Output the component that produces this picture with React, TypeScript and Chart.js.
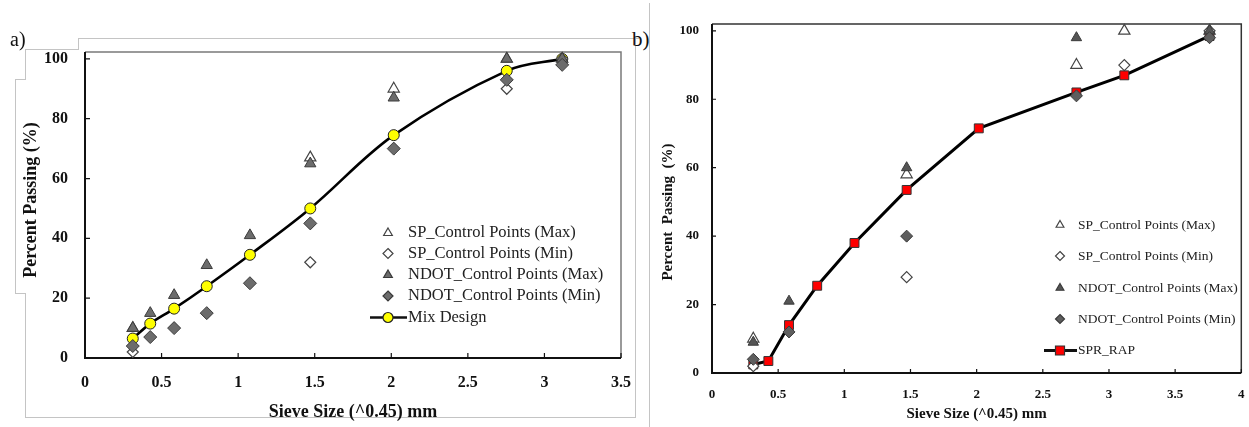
import React, { useEffect, useRef } from "react";
import { Chart, registerables } from "chart.js";

Chart.register(...registerables);

// ---------- Data: chart a) ----------
const A_X = [0.312, 0.426, 0.582, 0.795, 1.077, 1.471, 2.016, 2.754, 3.116];
const A_MIX_Y = [6.5, 11.5, 16.5, 24, 34.5, 50, 74.5, 96, 100];
const A_NDOT_MAX_Y = [10, 15, 21, 31, 41, 65, 87, 100, 100];
const A_NDOT_MIN_Y = [4, 7, 10, 15, 25, 45, 70, 93, 98];
const A_SP_MAX_X = [0.312, 1.471, 2.016, 2.754, 3.116];
const A_SP_MAX_Y = [10, 67, 90, 100, 100];
const A_SP_MIN_X = [0.312, 1.471, 2.754, 3.116];
const A_SP_MIN_Y = [2, 32, 90, 100];

// ---------- Data: chart b) ----------
const B_X = [0.312, 0.426, 0.582, 0.795, 1.077, 1.471, 2.016, 2.754, 3.116, 3.76];
const B_RAP_Y = [2.5, 3.5, 14, 25.5, 38, 53.5, 71.5, 82, 87, 98.5];
const B_SP_MAX_X = [0.312, 1.471, 2.754, 3.116, 3.76];
const B_SP_MAX_Y = [10, 58, 90, 100, 100];
const B_SP_MIN_X = [0.312, 1.471, 3.116, 3.76];
const B_SP_MIN_Y = [2, 28, 90, 100];
const B_NDOT_MAX_X = [0.312, 0.582, 1.471, 2.754, 3.76];
const B_NDOT_MAX_Y = [9, 21, 60, 98, 100];
const B_NDOT_MIN_X = [0.312, 0.582, 1.471, 2.754, 3.76];
const B_NDOT_MIN_Y = [4, 12, 40, 81, 98];

const Y_TICKS = [0, 20, 40, 60, 80, 100];
const A_X_TICKS = [0, 0.5, 1, 1.5, 2, 2.5, 3, 3.5];
const B_X_TICKS = [0, 0.5, 1, 1.5, 2, 2.5, 3, 3.5, 4];

const LEGEND_LABELS_A = [
  "SP_Control Points (Max)",
  "SP_Control Points (Min)",
  "NDOT_Control Points (Max)",
  "NDOT_Control Points (Min)",
  "Mix Design",
];
const LEGEND_LABELS_B = [
  "SP_Control Points (Max)",
  "SP_Control Points (Min)",
  "NDOT_Control Points (Max)",
  "NDOT_Control Points (Min)",
  "SPR_RAP",
];
const X_TITLE = "Sieve Size (^0.45) mm";
const Y_TITLE_A = "Percent Passing (%)";
const Y_TITLE_B = "Percent  Passing  (%)";

const SERIF = '"Liberation Serif", "Times New Roman", serif';
const GREY_FILL = "#6c6c6c";
const GREY_STROKE = "#3a3a3a";
const OPEN_STROKE = "#444";

const pts = (xs: number[], ys: number[]) => xs.map((x, i) => ({ x, y: ys[i] }));
const fmt = (v: any) => String(v);

function drawMarker(ctx: CanvasRenderingContext2D, kind: string, x: number, y: number, r: number, fill: string, stroke: string) {
  ctx.save();
  ctx.beginPath();
  if (kind === "tri") {
    ctx.moveTo(x, y - r);
    ctx.lineTo(x + r * 0.866, y + r * 0.5);
    ctx.lineTo(x - r * 0.866, y + r * 0.5);
    ctx.closePath();
  } else if (kind === "dia") {
    ctx.moveTo(x, y - r);
    ctx.lineTo(x + r, y);
    ctx.lineTo(x, y + r);
    ctx.lineTo(x - r, y);
    ctx.closePath();
  } else if (kind === "circle") {
    ctx.arc(x, y, r, 0, Math.PI * 2);
  } else if (kind === "square") {
    ctx.rect(x - r, y - r, 2 * r, 2 * r);
  }
  ctx.fillStyle = fill;
  ctx.fill();
  ctx.strokeStyle = stroke;
  ctx.lineWidth = 1.2;
  ctx.stroke();
  ctx.restore();
}

type LegendItem = { label: string; kind: string; fill: string; stroke: string; line?: boolean };

function makePlugins(opts: {
  frameColor: string;
  frameWidth: number;
  axisWidth: number;
  tickLen: number;
  legend: LegendItem[];
  legendX: number;
  legendY: number[];
  legendFont: string;
  markerR: number;
  lineFrom: number;
  lineTo: number;
  lineWidth: number;
  textGap: number;
  yTitle?: { text: string; x: number; y: number; font: string };
}) {
  return [
    {
      id: "frameTicks",
      beforeDatasetsDraw(chart: any) {
        const { ctx, chartArea } = chart;
        const { left, right, top, bottom } = chartArea;
        const xs = chart.scales.x;
        const ys = chart.scales.y;
        ctx.save();
        ctx.strokeStyle = opts.frameColor;
        ctx.lineWidth = opts.frameWidth;
        ctx.beginPath();
        ctx.moveTo(left, top);
        ctx.lineTo(right, top);
        ctx.lineTo(right, bottom);
        ctx.stroke();
        ctx.strokeStyle = "#111";
        ctx.lineWidth = opts.axisWidth;
        ctx.beginPath();
        ctx.moveTo(left, top);
        ctx.lineTo(left, bottom);
        ctx.lineTo(right, bottom);
        ctx.stroke();
        ctx.lineWidth = 1.2;
        ctx.beginPath();
        xs.ticks.forEach((t: any) => {
          const px = xs.getPixelForValue(t.value);
          ctx.moveTo(px, bottom);
          ctx.lineTo(px, bottom - opts.tickLen);
        });
        ys.ticks.forEach((t: any) => {
          const py = ys.getPixelForValue(t.value);
          ctx.moveTo(left, py);
          ctx.lineTo(left + opts.tickLen, py);
        });
        ctx.stroke();
        ctx.restore();
      },
    },
    {
      id: "customLegend",
      afterDraw(chart: any) {
        const { ctx } = chart;
        ctx.save();
        ctx.font = opts.legendFont;
        ctx.fillStyle = "#222";
        ctx.textBaseline = "middle";
        ctx.textAlign = "left";
        opts.legend.forEach((item, i) => {
          const y = opts.legendY[i];
          if (item.line) {
            ctx.strokeStyle = "#111";
            ctx.lineWidth = opts.lineWidth;
            ctx.beginPath();
            ctx.moveTo(opts.lineFrom, y);
            ctx.lineTo(opts.lineTo, y);
            ctx.stroke();
          }
          drawMarker(ctx, item.kind, opts.legendX, y, opts.markerR, item.fill, item.stroke);
          ctx.fillStyle = "#222";
          ctx.fillText(item.label, opts.legendX + opts.textGap, y);
        });
        if (opts.yTitle) {
          const t = opts.yTitle;
          ctx.translate(t.x, t.y);
          ctx.rotate(-Math.PI / 2);
          ctx.font = t.font;
          ctx.fillStyle = "#111";
          ctx.textAlign = "center";
          ctx.textBaseline = "middle";
          ctx.fillText(t.text, 0, 0);
        }
        ctx.restore();
      },
    },
  ];
}

function useChart(ref: React.RefObject<HTMLCanvasElement>, build: () => any) {
  useEffect(() => {
    if (!ref.current) return;
    const chart = new Chart(ref.current, build());
    return () => chart.destroy();
  }, []);
}

const fitX = (h: number) => (s: any) => {
  s.height = h;
  s.paddingLeft = 0;
  s.paddingRight = 0;
};
const fitY = (w: number) => (s: any) => {
  s.width = w;
  s.paddingTop = 0;
  s.paddingBottom = 0;
};

function configA() {
  const pointCommon = { clip: false as any };
  return {
    type: "scatter",
    data: {
      datasets: [
        {
          label: LEGEND_LABELS_A[3],
          data: pts(A_X, A_NDOT_MIN_Y),
          pointStyle: "rectRot",
          pointRadius: 6.5,
          pointBackgroundColor: GREY_FILL,
          pointBorderColor: GREY_STROKE,
          pointBorderWidth: 1,
          ...pointCommon,
        },
        {
          label: LEGEND_LABELS_A[2],
          data: pts(A_X, A_NDOT_MAX_Y),
          pointStyle: "triangle",
          pointRadius: 6.5,
          pointBackgroundColor: GREY_FILL,
          pointBorderColor: GREY_STROKE,
          pointBorderWidth: 1,
          ...pointCommon,
        },
        {
          label: LEGEND_LABELS_A[1],
          data: pts(A_SP_MIN_X, A_SP_MIN_Y),
          pointStyle: "rectRot",
          pointRadius: 5.5,
          pointBackgroundColor: "#fff",
          pointBorderColor: OPEN_STROKE,
          pointBorderWidth: 1.2,
          ...pointCommon,
        },
        {
          label: LEGEND_LABELS_A[0],
          data: pts(A_SP_MAX_X, A_SP_MAX_Y),
          pointStyle: "triangle",
          pointRadius: 6.5,
          pointBackgroundColor: "#fff",
          pointBorderColor: OPEN_STROKE,
          pointBorderWidth: 1.2,
          ...pointCommon,
        },
        {
          label: LEGEND_LABELS_A[4],
          data: pts(A_X, A_MIX_Y),
          showLine: true,
          borderColor: "#000",
          borderWidth: 2.6,
          tension: 0.35,
          pointStyle: "circle",
          pointRadius: 5.5,
          pointBackgroundColor: "#ffff00",
          pointBorderColor: "#222",
          pointBorderWidth: 1,
          ...pointCommon,
        },
      ],
    },
    options: {
      animation: false,
      responsive: false,
      devicePixelRatio: 1,
      layout: { padding: { top: 52, right: 11, left: 0, bottom: 0 } },
      plugins: { legend: { display: false }, tooltip: { enabled: false } },
      scales: {
        x: {
          type: "linear",
          min: 0,
          max: 3.5,
          afterFit: fitX(69),
          afterBuildTicks: (s: any) => { s.ticks = A_X_TICKS.map((v) => ({ value: v })); },
          grid: { display: false },
          border: { display: false },
          ticks: { padding: 7, color: "#111", font: { family: SERIF, size: 16, weight: "bold" }, maxRotation: 0, callback: fmt },
          title: { display: true, text: X_TITLE, color: "#111", font: { family: SERIF, size: 18, weight: "bold" }, padding: { top: 14 } },
        },
        y: {
          type: "linear",
          min: 0,
          max: 102.3,
          afterFit: fitY(85),
          afterBuildTicks: (s: any) => { s.ticks = Y_TICKS.map((v) => ({ value: v })); },
          grid: { display: false },
          border: { display: false },
          ticks: { padding: 9, color: "#111", font: { family: SERIF, size: 16, weight: "bold" }, callback: fmt },
          title: { display: false },
        },
      },
    },
    plugins: makePlugins({
      frameColor: "#7a7a7a",
      frameWidth: 1.5,
      axisWidth: 2,
      tickLen: 5,
      legend: [
        { label: LEGEND_LABELS_A[0], kind: "tri", fill: "#fff", stroke: OPEN_STROKE },
        { label: LEGEND_LABELS_A[1], kind: "dia", fill: "#fff", stroke: OPEN_STROKE },
        { label: LEGEND_LABELS_A[2], kind: "tri", fill: GREY_FILL, stroke: GREY_STROKE },
        { label: LEGEND_LABELS_A[3], kind: "dia", fill: GREY_FILL, stroke: GREY_STROKE },
        { label: LEGEND_LABELS_A[4], kind: "circle", fill: "#ffff00", stroke: "#222", line: true },
      ],
      legendX: 388,
      legendY: [233, 253.5, 275, 296, 317.5],
      legendFont: `16.5px ${SERIF}`,
      markerR: 5,
      lineFrom: 370,
      lineTo: 407,
      lineWidth: 2.6,
      textGap: 20,
      yTitle: { text: Y_TITLE_A, x: 31, y: 200, font: `bold 18px ${SERIF}` },
    }),
  };
}

function configB() {
  const pointCommon = { clip: false as any };
  return {
    type: "scatter",
    data: {
      datasets: [
        {
          label: LEGEND_LABELS_B[3],
          data: pts(B_NDOT_MIN_X, B_NDOT_MIN_Y),
          pointStyle: "rectRot",
          pointRadius: 6,
          pointBackgroundColor: "#5e5e5e",
          pointBorderColor: GREY_STROKE,
          pointBorderWidth: 1,
          ...pointCommon,
        },
        {
          label: LEGEND_LABELS_B[2],
          data: pts(B_NDOT_MAX_X, B_NDOT_MAX_Y),
          pointStyle: "triangle",
          pointRadius: 6,
          pointBackgroundColor: "#555",
          pointBorderColor: GREY_STROKE,
          pointBorderWidth: 1,
          ...pointCommon,
        },
        {
          label: LEGEND_LABELS_B[1],
          data: pts(B_SP_MIN_X, B_SP_MIN_Y),
          pointStyle: "rectRot",
          pointRadius: 5.5,
          pointBackgroundColor: "#fff",
          pointBorderColor: OPEN_STROKE,
          pointBorderWidth: 1.2,
          ...pointCommon,
        },
        {
          label: LEGEND_LABELS_B[0],
          data: pts(B_SP_MAX_X, B_SP_MAX_Y),
          pointStyle: "triangle",
          pointRadius: 6.5,
          pointBackgroundColor: "#fff",
          pointBorderColor: OPEN_STROKE,
          pointBorderWidth: 1.2,
          ...pointCommon,
        },
        {
          label: LEGEND_LABELS_B[4],
          data: pts(B_X, B_RAP_Y),
          showLine: true,
          borderColor: "#000",
          borderWidth: 3,
          tension: 0,
          pointStyle: "rect",
          pointRadius: 6.3,
          pointBackgroundColor: "#ff0000",
          pointBorderColor: "#333",
          pointBorderWidth: 1,
          ...pointCommon,
        },
      ],
    },
    options: {
      animation: false,
      responsive: false,
      devicePixelRatio: 1,
      layout: { padding: { top: 24, right: 7, left: 0, bottom: 0 } },
      plugins: { legend: { display: false }, tooltip: { enabled: false } },
      scales: {
        x: {
          type: "linear",
          min: 0,
          max: 4,
          afterFit: fitX(54),
          afterBuildTicks: (s: any) => { s.ticks = B_X_TICKS.map((v) => ({ value: v })); },
          grid: { display: false },
          border: { display: false },
          ticks: { padding: 6, color: "#111", font: { family: SERIF, size: 13, weight: "bold" }, maxRotation: 0, callback: fmt },
          title: { display: true, text: X_TITLE, color: "#111", font: { family: SERIF, size: 15, weight: "bold" }, padding: { top: 1 } },
        },
        y: {
          type: "linear",
          min: 0,
          max: 102,
          afterFit: fitY(62),
          afterBuildTicks: (s: any) => { s.ticks = Y_TICKS.map((v) => ({ value: v })); },
          grid: { display: false },
          border: { display: false },
          ticks: { padding: 5, color: "#111", font: { family: SERIF, size: 13, weight: "bold" }, callback: fmt },
          title: { display: false },
        },
      },
    },
    plugins: makePlugins({
      frameColor: "#333",
      frameWidth: 1.5,
      axisWidth: 2,
      tickLen: 4,
      legend: [
        { label: LEGEND_LABELS_B[0], kind: "tri", fill: "#fff", stroke: OPEN_STROKE },
        { label: LEGEND_LABELS_B[1], kind: "dia", fill: "#fff", stroke: OPEN_STROKE },
        { label: LEGEND_LABELS_B[2], kind: "tri", fill: "#555", stroke: GREY_STROKE },
        { label: LEGEND_LABELS_B[3], kind: "dia", fill: "#5e5e5e", stroke: GREY_STROKE },
        { label: LEGEND_LABELS_B[4], kind: "square", fill: "#ff0000", stroke: "#333", line: true },
      ],
      legendX: 1060 - 650,
      legendY: [225, 256, 288, 319, 350.5],
      legendFont: `13.5px ${SERIF}`,
      markerR: 4.5,
      lineFrom: 1044 - 650,
      lineTo: 1077 - 650,
      lineWidth: 3,
      textGap: 18,
      yTitle: { text: Y_TITLE_B, x: 18, y: 212, font: `bold 15px ${SERIF}` },
    }),
  };
}

const line = (style: React.CSSProperties): React.CSSProperties => ({ position: "absolute", background: "#c4c4c4", ...style });

export default function App() {
  const refA = useRef<HTMLCanvasElement>(null);
  const refB = useRef<HTMLCanvasElement>(null);
  useChart(refA, configA);
  useChart(refB, configB);
  return (
    <div style={{ position: "absolute", left: 0, top: 0, width: 1249, height: 427, background: "#fff", overflow: "hidden" }}>
      {/* light page-frame lines of the source figure */}
      <div style={line({ left: 78, top: 38, width: 561, height: 1 })} />
      <div style={line({ left: 78, top: 38, width: 1, height: 11 })} />
      <div style={line({ left: 25, top: 49, width: 54, height: 1 })} />
      <div style={line({ left: 25, top: 49, width: 1, height: 30 })} />
      <div style={line({ left: 15, top: 79, width: 11, height: 1 })} />
      <div style={line({ left: 15, top: 79, width: 1, height: 214 })} />
      <div style={line({ left: 15, top: 293, width: 11, height: 1 })} />
      <div style={line({ left: 25, top: 293, width: 1, height: 124 })} />
      <div style={line({ left: 25, top: 417, width: 611, height: 1 })} />
      <div style={line({ left: 635, top: 38, width: 1, height: 380 })} />
      <div style={line({ left: 649, top: 3, width: 1, height: 424 })} />
      <canvas ref={refA} width={632} height={427} style={{ position: "absolute", left: 0, top: 0, width: 632, height: 427 }} />
      <canvas ref={refB} width={599} height={427} style={{ position: "absolute", left: 650, top: 0, width: 599, height: 427 }} />
      <div style={{ position: "absolute", left: 10, top: 29, fontFamily: SERIF, fontSize: 20, lineHeight: "20px", color: "#111" }}>a)</div>
      <div style={{ position: "absolute", left: 632, top: 29, fontFamily: SERIF, fontSize: 21, lineHeight: "21px", color: "#111" }}>b)</div>
    </div>
  );
}
